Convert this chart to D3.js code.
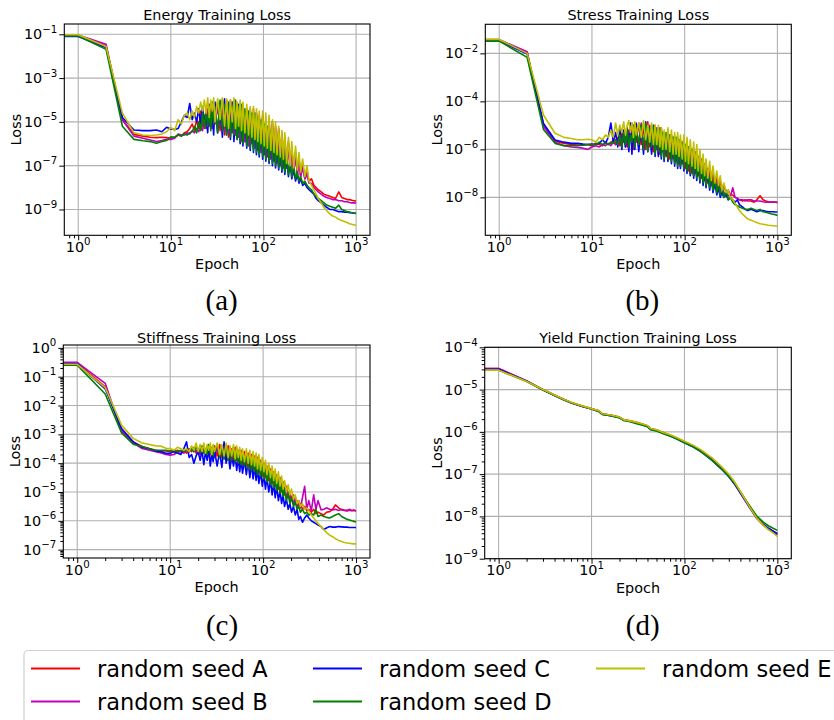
<!DOCTYPE html>
<html>
<head>
<meta charset="utf-8">
<script src="https://cdn.jsdelivr.net/npm/d3@7"></script>
<style>
  body { margin: 0; background: #fff; }
  svg text { font-family: "DejaVu Sans", sans-serif; fill: #000; }
</style>
</head>
<body>
<svg width="834" height="720"></svg>
<script>
// epochs shared by the energy / stress / stiffness runs (0 is drawn at the left edge)
const epochs = [0, 1, 2, 3, 4, 5, 6, 7, 8, 9, 10,
  11, 12, 13, 14, 15, 16, 17, 18, 19, 20,
  21, 22, 23, 24, 25, 26, 27, 28, 29, 30,
  32, 34, 36, 38, 40, 42, 44, 46, 48, 50, 52, 54, 56, 58, 60,
  63, 66, 69, 72, 75, 78, 81, 84, 87, 90, 94, 98, 102, 106, 110,
  115, 120, 125, 130, 135, 140, 146, 152, 158, 164, 170, 178, 186, 194, 202,
  212, 222, 232, 242, 252, 265, 280, 295, 310, 330, 350, 370, 390, 420, 450, 480,
  520, 560, 600, 650, 700, 750, 800, 850, 900, 950, 999];

// all losses below are log10(loss)
const energyA = [-1.05, -1.05, -1.52, -4.9, -5.57, -5.65, -5.7, -5.72, -5.7, -5.72, -5.75,
  -5.7, -5.6, -5.65, -5.5, -5.45, -5.3, -5.1, -5.4, -4.9, -5.3,
  -4.5, -5.2, -4.7, -5.3, -4.4, -5.1, -4.3, -5.2, -4.4, -5.0,
  -4.1, -5.4, -4.0, -5.6, -4.2, -5.7, -4.0, -5.3, -4.1, -5.6, -4.2, -5.7, -4.3, -5.8, -4.3,
  -5.9, -4.4, -6.0, -4.5, -5.9, -4.4, -6.1, -4.6, -6.2, -4.7, -6.2, -4.7, -6.4, -4.9, -6.5,
  -4.9, -6.6, -5.0, -6.7, -5.2, -6.8, -5.3, -6.9, -5.5, -7.0, -5.7, -7.1, -5.9, -7.2, -6.2,
  -7.3, -6.4, -7.4, -6.7, -7.5, -7.0, -7.6, -7.3, -7.7, -7.6, -7.9, -8.0, -8.1, -8.2, -8.3, -8.35,
  -8.4, -8.45, -8.5, -8.2, -8.45, -8.5, -8.55, -8.55, -8.58, -8.6, -8.62];
const energyB = [-1.03, -1.03, -1.46, -4.9, -5.65, -5.75, -5.83, -5.9, -5.85, -5.8, -5.8,
  -5.75, -5.55, -5.6, -5.6, -5.5, -5.55, -5.4, -5.5, -5.3, -5.45,
  -5.2, -5.4, -4.9, -5.3, -4.7, -5.2, -4.6, -5.3, -4.5, -5.1,
  -4.3, -5.2, -4.1, -5.4, -4.0, -5.5, -4.2, -5.5, -4.0, -5.6, -4.3, -5.7, -4.2, -5.9, -4.4,
  -5.9, -4.5, -6.1, -4.4, -6.0, -4.6, -6.2, -4.6, -6.3, -4.8, -6.4, -4.8, -6.5, -5.0, -6.6,
  -5.0, -6.7, -5.1, -6.8, -5.3, -6.9, -5.4, -7.0, -5.6, -7.1, -5.8, -7.1, -6.0, -7.2, -6.3,
  -7.3, -6.5, -7.4, -6.8, -7.5, -7.1, -7.6, -7.4, -7.8, -7.8, -8.0, -8.1, -8.2, -8.3, -8.4, -8.45,
  -8.5, -8.55, -8.55, -8.6, -8.6, -8.65, -8.65, -8.68, -8.7, -8.7, -8.72];
const energyC = [-1.1, -1.1, -1.6, -4.8, -5.37, -5.4, -5.4, -5.37, -5.45, -5.25, -5.32,
  -5.35, -5.3, -5.0, -4.7, -4.8, -4.16, -4.9, -4.6, -5.0, -4.4,
  -5.1, -4.3, -5.2, -4.5, -5.5, -4.2, -5.3, -4.4, -5.6, -4.1,
  -5.5, -4.2, -5.7, -3.95, -5.6, -4.3, -5.8, -4.1, -5.9, -4.4, -5.8, -4.2, -6.0, -4.5, -6.1,
  -4.5, -6.2, -4.6, -6.3, -4.7, -6.4, -4.8, -6.5, -4.9, -6.6, -5.0, -6.7, -5.2, -6.8, -5.4,
  -6.9, -5.5, -7.0, -5.7, -7.1, -5.9, -7.2, -6.1, -7.3, -6.3, -7.4, -6.6, -7.5, -6.8, -7.6,
  -7.2, -7.7, -7.4, -7.8, -7.6, -7.9, -7.8, -8.0, -8.1, -8.2, -8.3, -8.5, -8.6, -8.7, -8.8, -8.9,
  -9.0, -9.0, -9.05, -9.1, -9.1, -9.12, -9.13, -9.15, -9.15, -9.17, -9.17];
const energyD = [-1.08, -1.08, -1.69, -5.2, -5.8, -5.86, -5.9, -5.98, -5.9, -5.85, -5.68,
  -5.7, -5.6, -5.65, -5.55, -5.6, -5.5, -5.45, -5.2, -5.5, -5.0,
  -5.4, -4.6, -5.3, -4.4, -5.2, -4.5, -5.4, -4.1, -5.1, -4.3,
  -5.5, -4.0, -5.4, -4.2, -5.6, -4.1, -5.7, -4.3, -5.6, -4.0, -5.8, -4.3, -5.9, -4.2, -6.0,
  -4.4, -6.1, -4.5, -6.2, -4.6, -6.3, -4.6, -6.4, -4.8, -6.5, -4.9, -6.6, -5.1, -6.7, -5.2,
  -6.8, -5.4, -6.9, -5.6, -7.0, -5.8, -7.1, -6.0, -7.2, -6.2, -7.3, -6.5, -7.4, -6.8, -7.5,
  -7.0, -7.6, -7.3, -7.7, -7.5, -7.8, -7.7, -7.9, -8.0, -8.1, -8.3, -8.4, -8.5, -8.6, -8.7, -8.8,
  -8.85, -8.9, -8.95, -8.8, -9.0, -9.05, -9.1, -9.12, -9.15, -9.17, -9.18];
const energyE = [-1.02, -1.02, -1.56, -4.6, -5.5, -5.6, -5.62, -5.6, -5.55, -5.45, -5.25,
  -5.4, -4.9, -5.1, -4.7, -4.6, -4.9, -4.5, -4.8, -4.3, -4.6,
  -4.1, -4.5, -4.0, -4.6, -3.9, -4.8, -4.0, -4.5, -3.9, -5.0,
  -3.95, -4.9, -3.9, -5.2, -3.95, -5.3, -4.0, -5.0, -3.9, -5.3, -4.1, -5.2, -4.0, -5.4, -4.1,
  -5.5, -4.2, -5.6, -4.3, -5.7, -4.3, -5.8, -4.4, -5.9, -4.5, -6.0, -4.5, -6.1, -4.6, -6.2,
  -4.7, -6.3, -4.9, -6.4, -5.0, -6.5, -5.2, -6.6, -5.4, -6.7, -5.5, -6.9, -5.7, -7.0, -5.9,
  -7.1, -6.1, -7.2, -6.4, -7.3, -6.7, -7.5, -7.0, -7.7, -7.9, -8.1, -8.3, -8.5, -8.7, -8.9, -9.05,
  -9.2, -9.3, -9.35, -9.45, -9.5, -9.55, -9.6, -9.65, -9.68, -9.7, -9.73];

const stressA = [-1.44, -1.44, -1.95, -4.95, -5.65, -5.75, -5.8, -5.82, -5.82, -5.8, -5.85,
  -5.75, -5.8, -5.85, -5.7, -5.8, -5.75, -5.6, -5.8, -5.5, -5.85,
  -5.3, -5.7, -5.5, -5.9, -5.2, -5.6, -4.9, -6.0, -5.1, -5.7,
  -4.9, -5.8, -5.0, -6.0, -4.85, -5.9, -5.1, -6.1, -5.0, -6.0, -5.2, -6.2, -5.1, -6.1, -5.3,
  -6.3, -5.3, -6.4, -5.4, -6.4, -5.5, -6.5, -5.5, -6.6, -5.6, -6.6, -5.7, -6.8, -5.8, -6.9,
  -5.9, -7.0, -6.0, -7.0, -6.2, -7.1, -6.3, -7.2, -6.5, -7.3, -6.6, -7.4, -6.8, -7.5, -7.0,
  -7.6, -7.1, -7.6, -7.3, -7.7, -7.5, -7.8, -7.7, -7.9, -7.9, -8.0, -8.05, -8.1, -8.15, -8.1, -8.15,
  -8.15, -8.2, -8.1, -7.93, -8.1, -8.15, -8.18, -8.2, -8.2, -8.2, -8.21];
const stressB = [-1.43, -1.43, -1.93, -5.05, -5.7, -5.85, -5.9, -5.92, -5.95, -6.0, -5.9,
  -5.85, -5.9, -5.8, -5.85, -5.75, -5.85, -5.7, -5.8, -5.75, -5.65,
  -5.8, -5.4, -5.9, -5.3, -5.8, -5.1, -5.9, -5.2, -5.7, -5.0,
  -5.9, -4.9, -6.0, -5.1, -5.9, -5.0, -6.1, -5.2, -6.0, -5.1, -6.2, -5.2, -6.1, -5.3, -6.3,
  -5.4, -6.3, -5.4, -6.4, -5.5, -6.5, -5.6, -6.6, -5.6, -6.7, -5.7, -6.7, -5.8, -6.9, -5.9,
  -7.0, -6.0, -7.1, -6.1, -7.1, -6.3, -7.2, -6.4, -7.3, -6.6, -7.4, -6.8, -7.5, -7.0, -7.6,
  -7.2, -7.6, -7.4, -7.7, -7.6, -7.8, -7.9, -7.9, -8.0, -7.6, -8.0, -8.05, -8.1, -8.1, -8.15, -8.1,
  -8.1, -8.15, -8.15, -8.15, -8.18, -8.2, -8.2, -8.2, -8.2, -8.2, -8.21];
const stressC = [-1.47, -1.47, -2.03, -4.92, -5.61, -5.7, -5.75, -5.75, -5.78, -5.8, -5.78,
  -5.8, -5.75, -5.6, -5.75, -5.5, -4.9, -5.7, -5.3, -5.9, -5.1,
  -6.0, -5.2, -5.9, -5.1, -6.1, -4.9, -6.2, -5.0, -6.0, -4.9,
  -6.1, -5.0, -6.2, -4.85, -6.1, -5.1, -6.2, -5.0, -6.3, -5.2, -6.3, -5.2, -6.4, -5.3, -6.5,
  -5.4, -6.5, -5.5, -6.6, -5.5, -6.7, -5.6, -6.8, -5.7, -6.8, -5.8, -6.9, -5.9, -7.0, -6.0,
  -7.1, -6.1, -7.2, -6.3, -7.3, -6.4, -7.4, -6.6, -7.5, -6.8, -7.6, -6.9, -7.7, -7.1, -7.8,
  -7.4, -7.9, -7.6, -8.0, -7.8, -8.0, -7.9, -8.1, -8.0, -8.1, -8.2, -8.1, -8.3, -8.4, -8.5, -8.55,
  -8.5, -8.55, -8.6, -8.55, -8.55, -8.58, -8.6, -8.6, -8.6, -8.61, -8.61];
const stressD = [-1.49, -1.49, -2.17, -5.17, -5.75, -5.85, -5.85, -5.85, -5.83, -5.8, -5.8,
  -5.8, -5.7, -5.8, -5.75, -5.8, -5.7, -5.75, -5.6, -5.8, -5.4,
  -5.9, -5.3, -5.8, -5.2, -5.9, -5.4, -5.7, -5.0, -5.9, -5.1,
  -5.8, -5.0, -6.0, -4.9, -6.1, -5.1, -5.9, -5.0, -6.2, -5.2, -6.1, -5.1, -6.3, -5.3, -6.4,
  -5.3, -6.4, -5.4, -6.5, -5.5, -6.6, -5.5, -6.7, -5.6, -6.7, -5.7, -6.8, -5.8, -6.9, -5.9,
  -7.0, -6.0, -7.1, -6.2, -7.2, -6.3, -7.3, -6.5, -7.4, -6.7, -7.5, -6.8, -7.6, -7.0, -7.7,
  -7.2, -7.8, -7.4, -7.9, -7.5, -8.0, -7.7, -8.1, -8.0, -8.2, -8.3, -8.35, -8.4, -8.45, -8.5, -8.5,
  -8.45, -8.5, -8.55, -8.5, -8.6, -8.62, -8.65, -8.68, -8.7, -8.72, -8.75];
const stressE = [-1.42, -1.42, -2.0, -4.57, -5.33, -5.5, -5.55, -5.6, -5.6, -5.58, -5.6,
  -5.7, -5.5, -5.6, -5.4, -5.5, -5.2, -5.5, -4.9, -5.4, -5.0,
  -5.3, -4.85, -5.4, -5.0, -4.8, -5.3, -4.9, -5.5, -4.85, -5.4,
  -4.9, -5.5, -4.8, -5.6, -5.0, -5.7, -4.9, -5.8, -5.0, -5.8, -5.0, -5.9, -5.1, -6.0, -5.2,
  -6.0, -5.1, -6.1, -5.2, -6.2, -5.3, -6.2, -5.3, -6.3, -5.4, -6.4, -5.4, -6.5, -5.5, -6.6,
  -5.6, -6.7, -5.7, -6.8, -5.8, -6.9, -6.0, -7.0, -6.2, -7.1, -6.4, -7.2, -6.5, -7.3, -6.7,
  -7.4, -6.9, -7.5, -7.1, -7.7, -7.4, -7.8, -7.7, -8.0, -8.1, -8.25, -8.4, -8.55, -8.7, -8.8, -8.9,
  -8.95, -9.0, -9.05, -9.1, -9.12, -9.14, -9.16, -9.17, -9.18, -9.19, -9.2];

const stiffnessA = [-0.53, -0.53, -1.35, -2.85, -3.26, -3.42, -3.5, -3.55, -3.58, -3.58, -3.6,
  -3.6, -3.55, -3.6, -3.58, -3.65, -3.5, -3.6, -3.45, -3.65, -3.5,
  -3.7, -3.45, -3.65, -3.5, -3.75, -3.4, -3.7, -3.5, -3.8, -3.4,
  -3.75, -3.35, -3.8, -3.5, -3.85, -3.4, -3.9, -3.5, -3.95, -3.45, -3.9, -3.55, -4.0, -3.55, -4.05,
  -3.6, -4.1, -3.65, -4.15, -3.7, -4.2, -3.75, -4.3, -3.8, -4.35, -3.9, -4.45, -4.0, -4.5, -4.1,
  -4.6, -4.2, -4.7, -4.3, -4.8, -4.4, -4.9, -4.5, -5.0, -4.65, -5.1, -4.8, -5.2, -5.0, -5.3,
  -5.1, -5.4, -5.3, -5.5, -5.4, -5.6, -5.5, -5.65, -5.6, -5.7, -5.6, -5.75, -5.7, -5.75, -5.8, -5.7,
  -5.68, -5.6, -5.45, -5.55, -5.62, -5.64, -5.63, -5.64, -5.64, -5.65, -5.65];
const stiffnessB = [-0.5, -0.5, -1.23, -2.9, -3.3, -3.49, -3.55, -3.6, -3.65, -3.7, -3.72,
  -3.7, -3.62, -3.6, -3.65, -3.55, -3.6, -3.5, -3.6, -3.55, -3.65,
  -3.45, -3.7, -3.5, -3.65, -3.4, -3.75, -3.45, -3.7, -3.5, -3.8,
  -3.45, -3.8, -3.4, -3.85, -3.5, -3.9, -3.45, -3.95, -3.5, -3.9, -3.55, -4.0, -3.6, -4.05, -3.65,
  -4.1, -3.65, -4.15, -3.7, -4.2, -3.8, -4.25, -3.8, -4.35, -3.9, -4.4, -4.0, -4.5, -4.1, -4.6,
  -4.2, -4.7, -4.3, -4.8, -4.4, -4.9, -4.55, -5.0, -4.7, -5.1, -4.85, -5.2, -5.0, -5.3, -5.15,
  -5.4, -5.2, -5.5, -5.3, -5.55, -5.2, -4.8, -5.6, -5.3, -5.65, -5.1, -5.6, -5.3, -5.62, -5.6, -5.55,
  -5.6, -5.62, -5.6, -5.64, -5.6, -5.63, -5.66, -5.6, -5.65, -5.62, -5.66];
const stiffnessC = [-0.55, -0.55, -1.42, -2.8, -3.26, -3.45, -3.5, -3.58, -3.6, -3.66, -3.66,
  -3.6, -3.65, -3.7, -3.5, -3.26, -3.8, -3.7, -4.0, -3.75, -3.6,
  -3.9, -3.55, -4.05, -3.6, -3.9, -3.5, -4.1, -3.65, -3.95, -3.55,
  -4.1, -3.6, -4.15, -3.26, -4.0, -3.6, -4.2, -3.7, -4.1, -3.75, -4.25, -3.8, -4.3, -3.85, -4.35,
  -3.9, -4.4, -3.95, -4.5, -4.0, -4.55, -4.1, -4.6, -4.2, -4.7, -4.3, -4.8, -4.4, -4.9, -4.5,
  -5.0, -4.6, -5.1, -4.7, -5.2, -4.8, -5.3, -4.95, -5.4, -5.1, -5.5, -5.25, -5.6, -5.4, -5.7,
  -5.5, -5.8, -5.6, -5.95, -5.85, -6.05, -5.9, -5.8, -5.9, -6.0, -6.05, -6.1, -6.15, -6.2, -6.3, -6.25,
  -6.2, -6.22, -6.22, -6.2, -6.21, -6.22, -6.22, -6.23, -6.23, -6.23, -6.23];
const stiffnessD = [-0.6, -0.6, -1.6, -2.95, -3.34, -3.42, -3.5, -3.55, -3.55, -3.55, -3.57,
  -3.55, -3.6, -3.55, -3.58, -3.55, -3.6, -3.5, -3.6, -3.45, -3.55,
  -3.6, -3.4, -3.65, -3.5, -3.7, -3.35, -3.65, -3.45, -3.75, -3.5,
  -3.4, -3.8, -3.45, -3.85, -3.4, -3.9, -3.5, -3.9, -3.45, -3.95, -3.55, -4.0, -3.6, -4.05, -3.7,
  -4.1, -3.7, -4.2, -3.75, -4.25, -3.85, -4.3, -3.9, -4.4, -3.95, -4.45, -4.05, -4.55, -4.15, -4.65,
  -4.25, -4.75, -4.35, -4.85, -4.5, -4.95, -4.6, -5.05, -4.75, -5.15, -4.9, -5.3, -5.05, -5.4, -5.2,
  -5.5, -5.35, -5.6, -5.5, -5.7, -5.6, -5.75, -5.7, -5.8, -5.75, -5.8, -5.6, -5.85, -5.8, -5.85, -5.88,
  -5.9, -5.85, -5.8, -5.75, -5.85, -5.9, -5.95, -5.97, -6.0, -6.02, -6.04];
const stiffnessE = [-0.57, -0.57, -1.38, -2.68, -3.14, -3.3, -3.35, -3.4, -3.41, -3.48, -3.49,
  -3.55, -3.45, -3.5, -3.55, -3.5, -3.6, -3.4, -3.55, -3.3, -3.6,
  -3.35, -3.6, -3.3, -3.65, -3.35, -3.55, -3.3, -3.7, -3.35, -3.6,
  -3.3, -3.7, -3.35, -3.75, -3.3, -3.8, -3.4, -3.75, -3.35, -3.85, -3.4, -3.8, -3.45, -3.9, -3.5,
  -3.95, -3.5, -4.0, -3.55, -4.05, -3.6, -4.1, -3.65, -4.2, -3.7, -4.25, -3.8, -4.3, -3.9, -4.4,
  -4.0, -4.5, -4.1, -4.6, -4.2, -4.7, -4.3, -4.8, -4.45, -4.9, -4.6, -5.0, -4.75, -5.1, -4.9,
  -5.25, -5.1, -5.4, -5.3, -5.5, -5.4, -5.6, -5.55, -5.65, -5.8, -5.9, -6.0, -6.1, -6.2, -6.3, -6.4,
  -6.5, -6.55, -6.62, -6.68, -6.72, -6.75, -6.77, -6.78, -6.79, -6.8, -6.8];

// the yield function losses are smooth, so fewer epochs are kept
const epochsYield = [0, 1, 2, 3, 4, 5, 6, 8, 10, 12, 13, 16, 20, 22, 26, 30, 36, 40, 43, 50,
  60, 70, 80, 100, 125, 150, 200, 250, 300, 350, 400, 450, 500, 600, 700, 800, 900, 999];
const yieldA = [-4.5, -4.5, -4.8, -5.0, -5.13, -5.23, -5.3, -5.39, -5.45, -5.5, -5.57, -5.6, -5.65, -5.71, -5.74, -5.77, -5.82, -5.86, -5.93, -5.95,
  -6.02, -6.08, -6.13, -6.23, -6.34, -6.44, -6.65, -6.85, -7.03, -7.22, -7.42, -7.6, -7.76, -8.02, -8.18, -8.28, -8.35, -8.41];
const yieldB = [-4.5, -4.5, -4.79, -5.0, -5.14, -5.23, -5.31, -5.4, -5.46, -5.51, -5.58, -5.61, -5.66, -5.72, -5.75, -5.78, -5.83, -5.86, -5.92, -5.96,
  -6.03, -6.08, -6.14, -6.24, -6.35, -6.45, -6.66, -6.86, -7.04, -7.24, -7.45, -7.63, -7.79, -8.05, -8.2, -8.3, -8.37, -8.43];
const yieldC = [-4.52, -4.52, -4.8, -5.01, -5.14, -5.24, -5.31, -5.4, -5.46, -5.52, -5.58, -5.62, -5.66, -5.72, -5.75, -5.79, -5.84, -5.87, -5.94, -5.97,
  -6.04, -6.1, -6.15, -6.26, -6.36, -6.46, -6.68, -6.88, -7.06, -7.25, -7.45, -7.62, -7.77, -8.03, -8.18, -8.28, -8.35, -8.41];
const yieldD = [-4.54, -4.54, -4.81, -5.01, -5.14, -5.24, -5.31, -5.4, -5.46, -5.52, -5.59, -5.62, -5.67, -5.73, -5.76, -5.8, -5.85, -5.88, -5.95, -5.98,
  -6.05, -6.1, -6.15, -6.26, -6.36, -6.47, -6.68, -6.87, -7.05, -7.23, -7.42, -7.59, -7.74, -7.99, -8.13, -8.22, -8.28, -8.33];
const yieldE = [-4.54, -4.54, -4.81, -5.0, -5.13, -5.23, -5.3, -5.39, -5.45, -5.5, -5.57, -5.6, -5.65, -5.71, -5.74, -5.77, -5.82, -5.85, -5.92, -5.95,
  -6.02, -6.07, -6.12, -6.22, -6.32, -6.42, -6.62, -6.82, -7.0, -7.2, -7.41, -7.6, -7.77, -8.04, -8.2, -8.31, -8.39, -8.47];

const seeds = ["random seed A", "random seed B", "random seed C", "random seed D", "random seed E"];
const seedColors = ["#ff0000", "#bf00bf", "#0000ff", "#008000", "#bfbf00"];
const xTicks = [1, 10, 100, 1000];

const panels = [
  { title: "Energy Training Loss", caption: "(a)", epochs: epochs,
    series: [energyA, energyB, energyC, energyD, energyE],
    yTicks: [-1, -3, -5, -7, -9], yDomain: [-10.18, -0.53], minorY: false,
    left: 64.3, right: 370, top: 24, bottom: 235.3, titleY: 20, capX: 221.7, capY: 309.5 },
  { title: "Stress Training Loss", caption: "(b)", epochs: epochs,
    series: [stressA, stressB, stressC, stressD, stressE],
    yTicks: [-2, -4, -6, -8], yDomain: [-9.58, -0.79], minorY: false,
    left: 485.3, right: 791.3, top: 24.3, bottom: 235.3, titleY: 20, capX: 642.3, capY: 309.5 },
  { title: "Stiffness Training Loss", caption: "(c)", epochs: epochs,
    series: [stiffnessA, stiffnessB, stiffnessC, stiffnessD, stiffnessE],
    yTicks: [0, -1, -2, -3, -4, -5, -6, -7], yDomain: [-7.29, 0.1], minorY: true,
    left: 63.3, right: 370, top: 345, bottom: 558, titleY: 342.5, capX: 222, capY: 634.5 },
  { title: "Yield Function Training Loss", caption: "(d)", epochs: epochsYield,
    series: [yieldA, yieldB, yieldC, yieldD, yieldE],
    yTicks: [-4, -5, -6, -7, -8, -9], yDomain: [-9, -4], minorY: true,
    left: 484.7, right: 791.3, top: 347.3, bottom: 558.7, titleY: 342.7, capX: 642.7, capY: 634.5 }
];

const svg = d3.select("svg");
const xDomain = [Math.pow(10, -0.15), Math.pow(10, 3.15)];

function minorTicks(lo, hi) {
  const out = [];
  for (let k = Math.floor(Math.log10(lo)); k <= Math.ceil(Math.log10(hi)); k++) {
    for (let m = 2; m <= 9; m++) {
      const v = m * Math.pow(10, k);
      if (v >= lo && v <= hi) out.push(v);
    }
  }
  return out;
}

// "10" with a superscript exponent, like matplotlib's mathtext
function powerLabel(sel, exp) {
  sel.append("tspan").text("10");
  sel.append("tspan").attr("dy", -6.5).style("font-size", "10.2px")
    .text(exp < 0 ? "\u2212" + Math.abs(exp) : exp);
}

panels.forEach((p, pi) => {
  const g = svg.append("g");
  const x = d3.scaleLog().domain(xDomain).range([p.left, p.right]).clamp(true);
  const y = d3.scaleLog().domain(p.yDomain.map(v => Math.pow(10, v))).range([p.bottom, p.top]);

  // grid
  g.append("g").selectAll("line").data(xTicks).join("line")
    .attr("x1", d => x(d)).attr("x2", d => x(d))
    .attr("y1", p.top).attr("y2", p.bottom)
    .attr("stroke", "#b0b0b0").attr("stroke-width", 1.1);
  g.append("g").selectAll("line").data(p.yTicks.map(e => Math.pow(10, e))).join("line")
    .attr("x1", p.left).attr("x2", p.right)
    .attr("y1", d => y(d)).attr("y2", d => y(d))
    .attr("stroke", "#b0b0b0").attr("stroke-width", 1.1);

  // loss curves
  svg.append("clipPath").attr("id", "clip" + pi)
    .append("rect")
    .attr("x", p.left).attr("y", p.top)
    .attr("width", p.right - p.left).attr("height", p.bottom - p.top);

  const line = d3.line()
    .x((d, i) => x(p.epochs[i]))
    .y(d => y(Math.pow(10, d)));

  g.append("g").attr("clip-path", `url(#clip${pi})`)
    .selectAll("path")
    .data(p.series)
    .join("path")
    .attr("d", line)
    .attr("fill", "none")
    .attr("stroke", (d, i) => seedColors[i])
    .attr("stroke-width", 1.6)
    .attr("stroke-linejoin", "round");

  // frame
  g.append("rect")
    .attr("x", p.left).attr("y", p.top)
    .attr("width", p.right - p.left).attr("height", p.bottom - p.top)
    .attr("fill", "none").attr("stroke", "#000").attr("stroke-width", 1.1);

  // x ticks
  g.append("g").attr("transform", `translate(0,${p.bottom})`)
    .call(d3.axisBottom(x).tickValues(xTicks).tickSize(5).tickFormat(""))
    .call(a => a.select(".domain").remove());
  g.append("g").attr("transform", `translate(0,${p.bottom})`)
    .call(d3.axisBottom(x).tickValues(minorTicks(xDomain[0], xDomain[1])).tickSize(3).tickFormat(""))
    .call(a => a.select(".domain").remove());

  g.append("g").selectAll("text").data(xTicks).join("text")
    .attr("x", d => x(d)).attr("y", p.bottom + 16.5)
    .attr("text-anchor", "middle")
    .style("font-size", "14.4px")
    .each(function (d) { powerLabel(d3.select(this), Math.round(Math.log10(d))); });

  // y ticks
  g.append("g").attr("transform", `translate(${p.left},0)`)
    .call(d3.axisLeft(y).tickValues(p.yTicks.map(e => Math.pow(10, e))).tickSize(5).tickFormat(""))
    .call(a => a.select(".domain").remove());
  if (p.minorY) {
    const yd = y.domain();
    g.append("g").attr("transform", `translate(${p.left},0)`)
      .call(d3.axisLeft(y).tickValues(minorTicks(yd[0], yd[1])).tickSize(3).tickFormat(""))
      .call(a => a.select(".domain").remove());
  }

  g.append("g").selectAll("text").data(p.yTicks).join("text")
    .attr("x", p.left - 7).attr("y", d => y(Math.pow(10, d)) + 5)
    .attr("text-anchor", "end")
    .style("font-size", "14.4px")
    .each(function (d) { powerLabel(d3.select(this), d); });

  // titles and labels
  g.append("text")
    .attr("x", (p.left + p.right) / 2).attr("y", p.titleY)
    .attr("text-anchor", "middle")
    .style("font-size", "14.4px")
    .text(p.title);

  g.append("text")
    .attr("x", (p.left + p.right) / 2).attr("y", p.bottom + 34)
    .attr("text-anchor", "middle")
    .style("font-size", "14.4px")
    .text("Epoch");

  g.append("text")
    .attr("transform", `translate(${p.left - 43},${(p.top + p.bottom) / 2}) rotate(-90)`)
    .attr("text-anchor", "middle")
    .style("font-size", "14.4px")
    .text("Loss");

  g.append("text")
    .attr("x", p.capX).attr("y", p.capY)
    .attr("text-anchor", "middle")
    .style("font-family", "'Liberation Serif', serif")
    .style("font-size", "29px")
    .text(p.caption);
});

// legend
const legend = svg.append("g");
legend.append("rect")
  .attr("x", 24).attr("y", 650.5)
  .attr("width", 840).attr("height", 100)
  .attr("rx", 4)
  .attr("fill", "#fff")
  .attr("stroke", "#d0d0d0")
  .attr("stroke-width", 1.2);

const colX = [31, 313, 596];
const rowY = [668.5, 701.5];

const entries = legend.selectAll("g.entry")
  .data(seeds)
  .join("g")
  .attr("class", "entry")
  .attr("transform", (d, i) => `translate(${colX[Math.floor(i / 2)]},${rowY[i % 2]})`);

entries.append("line")
  .attr("x1", 0).attr("x2", 49)
  .attr("stroke", (d, i) => seedColors[i])
  .attr("stroke-width", 2.2);

entries.append("text")
  .attr("x", 66)
  .attr("dy", "0.36em")
  .style("font-size", "22.5px")
  .text(d => d);
</script>
</body>
</html>
